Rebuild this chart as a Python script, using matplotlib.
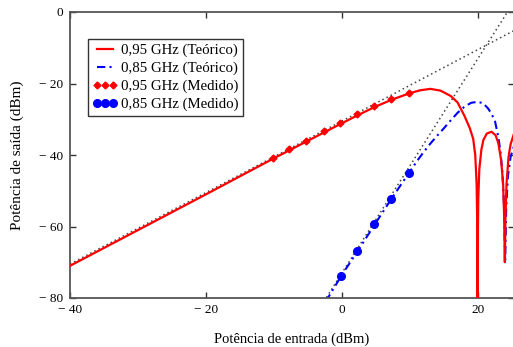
import matplotlib.pyplot as plt
from matplotlib.ticker import FixedLocator

plt.rcParams['font.family'] = ['Liberation Serif', 'DejaVu Serif']
plt.rcParams['font.size'] = 9.5

# theoretical curve, 0.95 GHz
red_x = [-40, -30, -20, -10, -5, 0, 2.5, 5, 7.5, 10, 11.5, 13, 14.5, 16, 17, 18,
         18.8, 19.3, 19.6, 19.8, 19.9, 19.95, 20.0, 20.05, 20.2, 20.5, 20.8, 21.3,
         22, 22.6, 23.0, 23.4, 23.7, 23.85, 23.95, 24.05, 24.2, 24.5, 24.8, 25.3]
red_y = [-71, -61, -51, -40.9, -36, -31.1, -28.7, -26.4, -24.4, -22.7, -21.9, -21.5,
         -22, -23.5, -25.3, -29, -32.5, -35.5, -40, -48, -60, -95, -60, -52,
         -44, -38.5, -35.8, -34, -33.5, -34.5, -36.7, -41.4, -48, -57, -70,
         -57, -48, -40.5, -37, -34]

# theoretical curve, 0.85 GHz
blue_x = [-2.4, 0, 2.5, 5, 7.5, 10, 11, 12, 13, 14, 15, 16, 17, 18, 19, 20,
          20.8, 21.5, 22, 22.5, 23, 23.3, 23.6, 23.85, 24.0, 24.15, 24.4, 24.8, 25.3]
blue_y = [-81, -73.5, -66.3, -58.9, -51.6, -44.6, -41.8, -39.2, -36.8, -34.6,
          -32.5, -30.3, -28.2, -26.5, -25.4, -25.1, -25.6, -27, -28.5, -30.5,
          -35, -39, -45, -55, -70, -55, -46, -40.5, -37.5]

# measured points
red_meas_x = [-10.2, -7.8, -5.3, -2.7, -0.3, 2.2, 4.7, 7.2, 9.8]
red_meas_y = [-40.8, -38.4, -36.0, -33.4, -31.1, -28.6, -26.3, -24.3, -22.6]
blue_meas_x = [-0.2, 2.2, 4.75, 7.25, 9.8]
blue_meas_y = [-73.8, -66.9, -59.4, -52.2, -45.0]

# dotted asymptotes (slope 1 and slope 3)
asym1_x = [-40, 25.3]
asym1_y = [-70.5, -5.2]
asym3_x = [-3, 25]
asym3_y = [-82, 2]

xticks = [-40, -20, 0, 20]
xtick_labels = ['\u2212 40', '\u2212 20', '0', '20']
yticks = [0, -20, -40, -60, -80]
ytick_labels = ['0', '\u2212 20', '\u2212 40', '\u2212 60', '\u2212 80']

fig = plt.figure(figsize=(5.13, 3.47), dpi=100)
ax = fig.add_axes([70/513, 49/347, 444/513, 286/347])

ax.plot(asym1_x, asym1_y, color='#444444', ls=(0, (1, 2)), lw=1.1, zorder=1)
ax.plot(asym3_x, asym3_y, color='#444444', ls=(0, (1, 2)), lw=1.1, zorder=1)
ax.plot(red_x, red_y, color='#ff0000', lw=1.6, label='0,95 GHz (Teórico)', zorder=3)
ax.plot(blue_x, blue_y, color='#0000ff', lw=1.5, ls=(0, (4, 2, 1, 2)),
        label='0,85 GHz (Teórico)', zorder=2)
ax.plot(red_meas_x, red_meas_y, ls='none', marker='D', ms=3.5, color='#ff0000',
        label='0,95 GHz (Medido)', zorder=4)
ax.plot(blue_meas_x, blue_meas_y, ls='none', marker='o', ms=5.5, color='#0000ff',
        label='0,85 GHz (Medido)', zorder=4)

ax.set_xlim(-40, 25.3)
ax.set_ylim(-80, 0)
ax.xaxis.set_major_locator(FixedLocator(xticks))
ax.set_xticklabels(xtick_labels)
ax.yaxis.set_major_locator(FixedLocator(yticks))
ax.set_yticklabels(ytick_labels)
ax.tick_params(direction='in', length=4, width=1, color='#333333',
               top=True, right=True, labelsize=9.5)
ax.tick_params(axis='x', pad=4)
ax.tick_params(axis='y', pad=5)
for s in ax.spines.values():
    s.set_color('#555555')
    s.set_linewidth(1.3)

ax.set_xlabel('Potência de entrada (dBm)', fontsize=10.5, labelpad=12)
ax.set_ylabel('Potência de saída (dBm)', fontsize=11, labelpad=11)

leg = ax.legend(loc='upper left', bbox_to_anchor=(18/444, 1 - 27/286),
                borderaxespad=0, numpoints=3, fancybox=False, framealpha=1,
                edgecolor='#333333', fontsize=10.7, handlelength=1.7,
                handletextpad=0.25, labelspacing=0.3, borderpad=0.3)
leg.get_frame().set_linewidth(1.0)

fig.savefig('out.png', dpi=100)
